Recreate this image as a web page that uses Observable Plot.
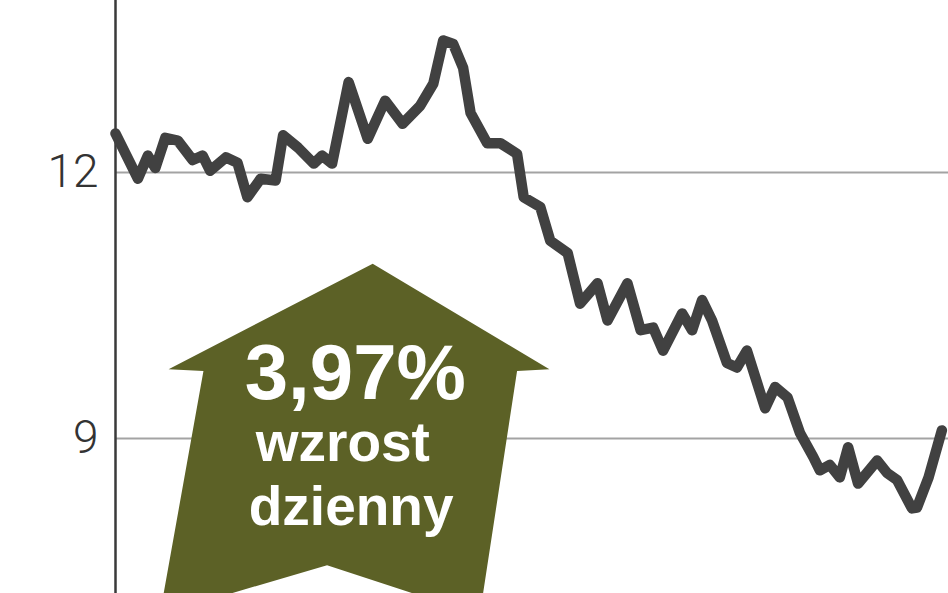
<!DOCTYPE html>
<html>
<head>
<meta charset="utf-8">
<script src="https://cdn.jsdelivr.net/npm/d3@7"></script>
<script src="https://cdn.jsdelivr.net/npm/@observablehq/plot@0.6"></script>
<style>
  html, body { margin: 0; padding: 0; background: #fff; }
  #chart svg { display: block; }
</style>
</head>
<body>
<div id="chart"></div>
<script>
// Series: position along the period and price value
const days = [0, 2.7, 3.9, 4.8, 6.0, 7.5, 9.3, 10.5, 11.4, 13.3, 14.7, 15.9, 17.5, 19.3, 20.2, 22.0, 23.9, 24.9, 26.1, 28.1, 30.4, 32.5, 34.6, 36.7, 38.3, 39.5, 40.7, 41.9, 42.8, 44.8, 46.4, 48.4, 49.2, 51.2, 52.4, 54.5, 56.0, 58.1, 59.3, 61.7, 63.3, 64.8, 66.0, 68.3, 69.5, 70.7, 71.9, 73.7, 74.9, 76.1, 78.3, 79.5, 81.0, 82.5, 84.1, 84.9, 86.1, 87.3, 88.3, 89.5, 91.8, 93.0, 94.2, 96.0, 96.6, 98.0, 99.6];
const values = [12.44, 11.93, 12.19, 12.05, 12.39, 12.36, 12.14, 12.19, 12.02, 12.17, 12.11, 11.72, 11.93, 11.91, 12.42, 12.28, 12.10, 12.19, 12.10, 13.02, 12.38, 12.81, 12.55, 12.75, 13.00, 13.49, 13.45, 13.18, 12.67, 12.33, 12.33, 12.21, 11.72, 11.61, 11.23, 11.09, 10.52, 10.75, 10.33, 10.75, 10.22, 10.25, 9.99, 10.41, 10.22, 10.56, 10.33, 9.85, 9.80, 9.99, 9.34, 9.58, 9.46, 9.06, 8.79, 8.64, 8.70, 8.56, 8.90, 8.49, 8.75, 8.61, 8.53, 8.21, 8.22, 8.56, 9.09];

// Y tick labels
const yTicks = [9, 12];

// Annotation: arrow outline (in data units) and its text lines
const arrowX = [31.0, 52.3, 48.4, 44.3, 35.9, 25.5, 13.9, 5.8, 10.6, 6.4];
const arrowY = [10.97, 9.78, 9.76, 7.25, 7.25, 7.57, 7.25, 7.25, 9.76, 9.78];
const labelLines = ["3,97%", "wzrost", "dzienny"];
const labelX = [28.9, 27.4, 28.4];
const labelY = [9.73, 8.945, 8.225];
const labelSize = [78, 55, 55];

const series = days.map((d, i) => ({day: d, value: values[i]}));
const arrow = arrowX.map((x, i) => ({x, y: arrowY[i]}));
const labels = labelLines.map((t, i) => ({t, x: labelX[i], y: labelY[i], s: labelSize[i]}));

const chart = Plot.plot({
  width: 948,
  height: 593,
  marginTop: 0,
  marginBottom: 0,
  marginLeft: 115,
  marginRight: 0,
  x: {domain: [0, 100.4], axis: null},
  y: {domain: [7.25, 13.94], axis: null},
  marks: [
    Plot.ruleY(yTicks, {stroke: "#a3a3a3", strokeWidth: 2}),
    Plot.ruleX([0], {stroke: "#3a3a3a", strokeWidth: 2.5}),
    Plot.text(yTicks, {
      x: 0, y: d => d, text: d => String(d),
      textAnchor: "end", dx: -17,
      fontSize: 46, fontWeight: 300, fill: "#333",
      fontFamily: "Roboto, 'DejaVu Sans', sans-serif"
    }),
    Plot.line(series, {
      x: "day", y: "value",
      stroke: "#414141", strokeWidth: 10.5,
      strokeLinejoin: "round", strokeLinecap: "round"
    }),
    Plot.line(arrow, {x: "x", y: "y", fill: "#5c6126", stroke: "none"}),
    ...labels.map(l => Plot.text([l], {
      x: "x", y: "y", text: "t",
      fontSize: l.s, fontWeight: "bold", fill: "#fff",
      textAnchor: "middle",
      fontFamily: "'Liberation Sans', Arial, sans-serif"
    }))
  ]
});
document.getElementById("chart").appendChild(chart);
</script>
</body>
</html>
